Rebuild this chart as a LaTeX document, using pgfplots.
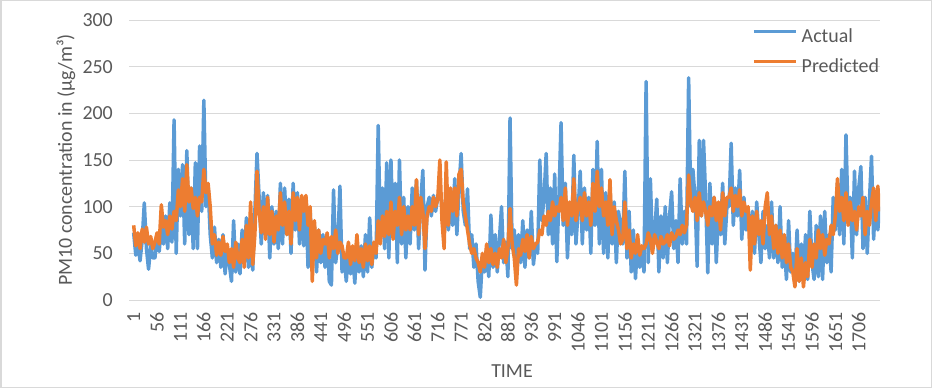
\documentclass[border=0pt]{standalone}
\usepackage{pgfplots}
\pgfplotsset{compat=1.18}
\usepackage{pgfplotstable}
\usepackage{fontspec}
\setmainfont{Carlito}
\definecolor{actual}{HTML}{5B9BD5}
\definecolor{pred}{HTML}{ED7D31}
\definecolor{txt}{HTML}{595959}
\definecolor{gridc}{HTML}{D9D9D9}

\pgfplotstableread{
t a p
1 72 80
6 48 58
11 60 72
16 42 55
21 64 76
26 104 62
31 55 78
36 33 60
41 58 68
46 45 55
51 45 62
56 70 72
61 52 60
66 78 102
71 60 78
76 90 85
81 55 70
86 104 90
91 62 76
96 193 95
101 50 85
106 140 118
111 90 100
116 145 130
121 60 95
126 160 145
131 70 105
136 120 120
141 55 98
146 147 110
151 55 90
156 165 110
161 95 105
166 214 140
171 100 115
176 122 125
181 70 100
186 45 60
191 78 70
196 40 48
201 65 62
206 35 48
211 70 68
216 28 52
221 55 60
226 38 40
231 20 55
236 85 35
241 30 62
246 60 45
251 28 40
256 75 65
261 40 35
266 88 80
271 35 45
276 60 105
281 32 38
286 95 70
291 157 138
296 110 95
301 60 72
306 115 100
311 70 65
316 112 110
321 45 70
326 100 95
331 60 62
336 95 90
341 55 75
346 125 115
351 60 80
356 120 105
361 70 70
366 108 95
371 50 60
376 125 115
381 75 85
386 115 110
391 60 75
396 100 112
401 58 95
406 110 112
411 35 80
416 95 100
421 45 20
426 80 85
431 30 45
436 75 75
441 40 50
446 70 65
451 35 60
456 68 72
461 20 45
466 16 68
471 118 55
476 40 75
481 60 50
486 122 62
491 30 58
496 45 45
501 20 45
506 55 62
511 28 38
516 50 58
521 18 42
526 62 70
531 30 40
536 58 55
541 25 35
546 70 60
551 30 42
556 88 58
561 35 38
566 60 62
571 45 50
576 187 85
581 70 60
586 120 90
591 55 68
596 147 95
601 45 70
606 150 105
611 70 65
616 125 95
621 40 80
626 150 110
631 60 70
636 110 100
641 45 75
646 100 90
651 60 75
656 120 100
661 75 80
666 128 129
671 55 70
676 105 110
681 139 95
686 32 55
691 100 90
696 110 100
701 90 95
706 112 110
711 95 100
716 110 108
721 120 150
726 100 85
731 70 55
736 118 148
741 75 80
746 110 120
751 80 95
756 130 120
761 70 90
766 120 135
771 157 140
776 95 105
781 80 90
786 119 75
791 55 60
796 70 50
801 35 55
806 60 45
811 20 40
816 3 30
821 45 50
826 30 35
831 55 60
836 25 40
841 91 55
846 35 38
851 70 50
856 30 35
861 65 55
866 100 45
871 40 65
876 62 40
881 25 55
886 195 98
891 55 60
896 75 45
901 30 16
906 70 55
911 40 48
916 85 65
921 35 52
926 75 70
931 45 45
936 95 68
941 38 55
946 60 60
951 50 62
956 150 75
961 85 70
966 110 90
971 157 80
976 70 95
981 120 85
986 60 105
991 135 90
996 41 100
1001 110 95
1006 190 110
1011 80 85
1016 125 120
1021 45 80
1026 100 105
1031 70 90
1036 155 130
1041 60 85
1046 95 100
1051 138 110
1056 60 85
1061 120 115
1066 75 90
1071 110 105
1076 50 80
1081 140 125
1086 80 95
1091 170 138
1096 60 100
1101 140 120
1106 50 90
1111 115 105
1116 45 80
1121 120 129
1126 60 70
1131 105 100
1136 40 85
1141 95 75
1146 80 60
1151 60 65
1156 138 105
1161 45 55
1166 95 75
1171 30 45
1176 75 60
1181 23 50
1186 65 70
1191 35 48
1196 55 58
1201 30 55
1206 234 60
1211 40 72
1216 130 65
1221 55 50
1226 70 70
1231 108 62
1236 30 55
1241 90 68
1246 45 60
1251 100 62
1256 40 70
1261 90 58
1266 116 72
1271 55 65
1276 85 68
1281 40 75
1286 130 70
1291 60 80
1296 95 72
1301 60 80
1306 238 134
1311 100 105
1316 140 95
1321 110 110
1326 36 85
1331 171 115
1336 90 90
1341 171 105
1346 110 95
1351 29 80
1356 125 100
1361 60 90
1366 110 110
1371 40 85
1376 95 105
1381 70 75
1386 125 115
1391 60 90
1396 100 110
1401 100 110
1406 168 120
1411 80 95
1416 120 112
1421 90 100
1426 139 118
1431 65 90
1436 110 105
1441 75 95
1446 95 100
1451 60 32
1456 95 90
1461 50 60
1466 105 95
1471 70 70
1476 40 85
1481 95 60
1486 55 100
1491 80 115
1496 45 70
1501 105 90
1506 45 55
1511 80 80
1516 40 50
1521 100 75
1526 35 45
1531 60 70
1536 22 40
1541 85 60
1546 30 35
1551 50 30
1556 25 14
1561 75 55
1566 20 20
1571 60 45
1576 30 14
1581 70 40
1586 22 25
1591 95 65
1596 40 35
1601 22 60
1606 80 45
1611 25 75
1616 90 55
1621 22 70
1626 95 48
1631 40 65
1636 70 60
1641 30 80
1646 110 70
1651 75 90
1656 125 130
1661 70 95
1666 140 110
1671 60 85
1676 177 115
1681 85 80
1686 110 105
1691 45 85
1696 138 95
1701 70 75
1706 120 100
1711 143 90
1716 55 110
1721 110 70
1726 50 95
1731 105 80
1736 154 105
1741 65 120
1746 115 85
1751 75 122
1754 100 95
}\pmdata

\begin{document}
\begin{tikzpicture}
\useasboundingbox (0bp,0bp) rectangle (932bp,388bp);
\draw[gridc, line width=1.5bp] (0.75bp,0.75bp) rectangle (931.25bp,387.25bp);
\begin{axis}[
  at={(129bp,88bp)}, anchor=south west,
  scale only axis, width=751bp, height=280bp,
  xmin=-10, xmax=1756, ymin=0, ymax=300,
  xtick={1,56,...,1706},
  ytick={0,50,...,300},
  axis line style={draw=none},
  major tick length=0pt,
  ymajorgrids, grid style={gridc, line width=0.75bp},
  tick label style={text=txt, font=\fontsize{20}{24}\selectfont},
  /pgf/number format/assume math mode=true,
  /pgf/number format/set thousands separator={},
  xticklabel style={rotate=90, anchor=east, inner sep=0pt},
  yticklabel style={anchor=east, inner sep=0pt},
  xticklabel shift=12bp, yticklabel shift=16bp,
  xlabel={TIME}, ylabel={PM10 concentration in (µg/m³)},
  label style={text=txt, font=\fontsize{20}{24}\selectfont},
  xlabel style={at={(axis description cs:0.51,-0.2536)}, anchor=center},
  ylabel style={at={(axis description cs:-0.0839,0.5)}, anchor=center},
  legend style={draw=none, fill=none, at={(axis description cs:0.8296,0.973)}, anchor=north west,
    font=\fontsize{20}{24}\selectfont, text=txt, inner sep=0pt, row sep=11bp, column sep=4bp,
    nodes={inner sep=0pt, text height=14.5bp, text depth=4.5bp}},
  legend image code/.code={\draw[#1, line width=3.5bp] (0bp,6bp) -- (42bp,6bp);},
  legend cell align=left,
]
\addplot[actual, line width=3.5bp, line join=round] table[x=t, y=a] {\pmdata};
\addlegendentry{Actual}
\addplot[pred, line width=3.5bp, line join=round] table[x=t, y=p] {\pmdata};
\addlegendentry{Predicted}
\end{axis}
\end{tikzpicture}
\end{document}
